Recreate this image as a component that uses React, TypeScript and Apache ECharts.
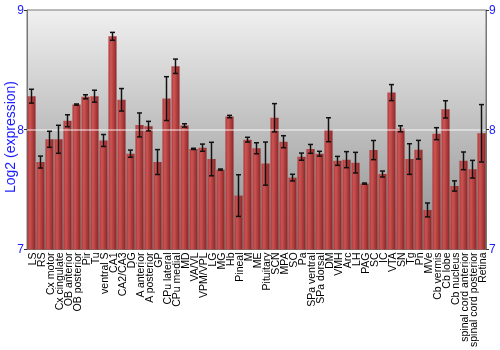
import React, { useEffect, useRef } from "react";
import * as echarts from "echarts";

const categories = [
  "LS", "RS", "Cx motor", "Cx cingulate", "OB anterior", "OB posterior", "Pir", "Tu",
  "ventral S", "CA1", "CA2/CA3", "DG", "A anterior", "A posterior", "GP", "CPu lateral",
  "CPu medial", "MD", "VA/VL", "VPM/VPL", "LG", "MG", "Hb", "Pineal", "M", "ME",
  "Pituitary", "SCN", "MPA", "SO", "Pa", "SPa ventral", "SPa dorsal", "DM", "VMH", "Arc",
  "LH", "PAG", "SC", "IC", "VTA", "SN", "Tg", "Pn", "MVe", "Cb vermis", "Cb lobe",
  "Cb nucleus", "spinal cord anterior", "spinal cord posterior", "Retina",
];

const values = [
  8.28, 7.73, 7.92, 7.92, 8.075, 8.21, 8.275, 8.28,
  7.91, 8.78, 8.25, 7.8, 8.04, 8.03, 7.73, 8.26,
  8.53, 8.036, 7.84, 7.85, 7.755, 7.667, 8.11, 7.45, 7.917, 7.845,
  7.717, 8.1, 7.9, 7.6, 7.775, 7.84, 7.8, 8.0, 7.74, 7.75,
  7.725, 7.55, 7.83, 7.63, 8.31, 8.008, 7.755, 7.833, 7.33, 7.967, 8.17,
  7.53, 7.74, 7.67, 7.97,
];

const errors = [
  0.058, 0.05, 0.067, 0.117, 0.05, 0.005, 0.017, 0.05,
  0.05, 0.033, 0.094, 0.03, 0.1, 0.04, 0.104, 0.183,
  0.06, 0.014, 0.005, 0.03, 0.14, 0.005, 0.01, 0.174, 0.02, 0.046,
  0.18, 0.118, 0.05, 0.028, 0.03, 0.037, 0.02, 0.1, 0.0375, 0.067,
  0.086, 0.005, 0.08, 0.025, 0.067, 0.025, 0.128, 0.078, 0.058, 0.05, 0.072,
  0.043, 0.074, 0.074, 0.24,
];

const yTicks = { min: 7, max: 9, interval: 1 };
const yName = "Log2 (expression)";

export default function App() {
  const ref = useRef<HTMLDivElement>(null);

  useEffect(() => {
    if (!ref.current) return;
    const chart = echarts.init(ref.current, null, { renderer: "svg" });
    const blue = "#1a1aff";
    const font = "Liberation Sans, Arial, sans-serif";
    const errData = values.map((v, i) => [i, v - errors[i], v + errors[i]]);

    const yAxisBase = {
      type: "value" as const,
      min: yTicks.min,
      max: yTicks.max,
      interval: yTicks.interval,
      axisLine: { show: true, lineStyle: { color: "#777", width: 1 } },
      axisTick: { show: true, length: 3, lineStyle: { color: "#333" } },
      axisLabel: { color: blue, fontSize: 12, fontFamily: font, margin: 3 },
      splitLine: { show: false },
    };

    chart.setOption({
      animation: false,
      graphic: [
        {
          type: "text",
          x: 10,
          y: 137,
          rotation: Math.PI / 2,
          style: {
            text: yName,
            fill: blue,
            fontSize: 14,
            fontFamily: font,
            align: "center",
            verticalAlign: "middle",
          },
        },
      ],
      grid: {
        left: 27,
        right: 14,
        top: 10,
        bottom: 100,
        show: true,
        borderColor: "#777",
        borderWidth: 1,
        backgroundColor: new echarts.graphic.LinearGradient(0, 0, 0, 1, [
          { offset: 0, color: "#f0f0f0" },
          { offset: 1, color: "#8c8c8c" },
        ]),
      },
      xAxis: {
        type: "category",
        data: categories,
        axisLine: { show: true, lineStyle: { color: "#777" } },
        axisTick: { show: false },
        axisLabel: {
          interval: 0,
          rotate: 90,
          color: "#000",
          fontSize: 10.5,
          fontFamily: font,
          margin: 3,
        },
      },
      yAxis: [
        { ...yAxisBase, position: "left" },
        { ...yAxisBase, position: "right" },
      ],
      series: [
        {
          type: "bar",
          data: values,
          barCategoryGap: "10%",
          itemStyle: {
            color: new echarts.graphic.LinearGradient(0, 0, 1, 0, [
              { offset: 0, color: "#a83232" },
              { offset: 0.3, color: "#cf4f4f" },
              { offset: 1, color: "#8a1e1e" },
            ]),
            opacity: 0.95,
          },
          markLine: {
            silent: true,
            symbol: "none",
            label: { show: false },
            lineStyle: { color: "#ffffff", width: 1.5, type: "solid", opacity: 0.6 },
            data: [{ yAxis: 8 }],
          },
        },
        {
          type: "custom",
          data: errData,
          encode: { x: 0, y: [1, 2] },
          z: 5,
          renderItem: (params: any, api: any) => {
            const i = api.value(0);
            const lo = api.coord([i, api.value(1)]);
            const hi = api.coord([i, api.value(2)]);
            const hw = 2.5;
            const style = { stroke: "#111", lineWidth: 1.5 };
            return {
              type: "group",
              children: [
                { type: "line", shape: { x1: lo[0], y1: lo[1], x2: hi[0], y2: hi[1] }, style },
                { type: "line", shape: { x1: lo[0] - hw, y1: lo[1], x2: lo[0] + hw, y2: lo[1] }, style },
                { type: "line", shape: { x1: hi[0] - hw, y1: hi[1], x2: hi[0] + hw, y2: hi[1] }, style },
              ],
            };
          },
        },
      ],
    });
    return () => chart.dispose();
  }, []);

  return (
    <div
      ref={ref}
      style={{ position: "fixed", left: 0, top: 0, width: 500, height: 350 }}
    />
  );
}
